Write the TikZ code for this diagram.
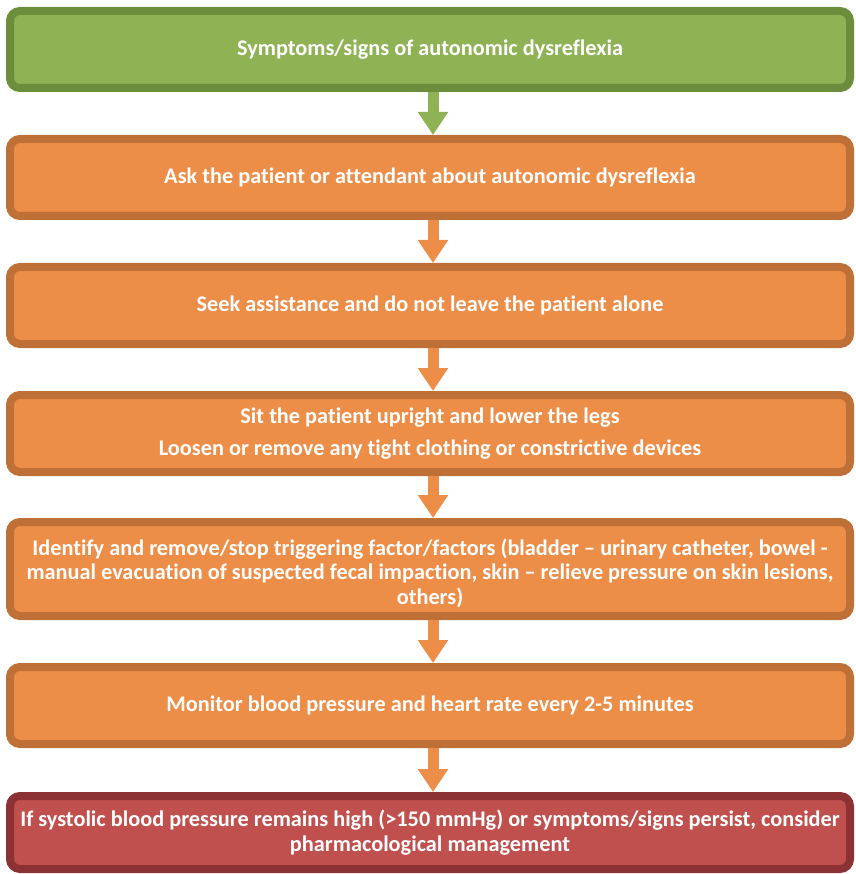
\documentclass[tikz,border=0pt]{standalone}
\usepackage{fontspec}
\setmainfont{Carlito}[Ligatures={NoCommon}]
\usetikzlibrary{arrows.meta,shadows}

\definecolor{grnfill}{RGB}{143,178,85}
\definecolor{grnline}{RGB}{108,142,60}
\definecolor{orgfill}{RGB}{236,142,72}
\definecolor{orgline}{RGB}{190,112,55}
\definecolor{redfill}{RGB}{192,80,78}
\definecolor{redline}{RGB}{140,50,52}

\tikzset{
  stepbox/.style={rectangle, rounded corners=10pt, line width=8pt,
    minimum width=840pt, minimum height=77pt, inner sep=0pt,
    align=center, text=white, font=\fontsize{22.3}{24.5}\selectfont\bfseries,
    drop shadow={shadow xshift=1.5pt, shadow yshift=-3pt, opacity=0.25, fill=black!60}},
  greenbox/.style={stepbox, draw=grnline, fill=grnfill},
  orangebox/.style={stepbox, draw=orgline, fill=orgfill},
  redbox/.style={stepbox, draw=redline, fill=redfill},
  flowarrow/.style={line width=11pt, -{Triangle[width=29pt,length=23pt]}},
}

\begin{document}
\begin{tikzpicture}[x=1pt,y=-1pt]
  \useasboundingbox (0,0) rectangle (855,874);

  \node[greenbox]  (b1) at (430,49.5)  {Symptoms/signs of autonomic dysreflexia};
  \node[orangebox] (b2) at (430,177.5) {Ask the patient or attendant about autonomic dysreflexia};
  \node[orangebox] (b3) at (430,305.5) {Seek assistance and do not leave the patient alone};
  \node[orangebox] (b4) at (430,433.5) {Sit the patient upright and lower the legs\\[7.5pt]
    Loosen or remove any tight clothing or constrictive devices};
  \node[orangebox, minimum height=94pt] (b5) at (430,569)
    {\rule{0pt}{25pt}Identify and remove/stop triggering factor/factors (bladder -- urinary catheter, bowel -\\
     manual evacuation of suspected fecal impaction, skin -- relieve pressure on skin lesions,\\
     others)};
  \node[orangebox] (b6) at (430,705.5) {Monitor blood pressure and heart rate every 2-5 minutes};
  \node[redbox, minimum height=73pt] (b7) at (430,832.5)
    {If systolic blood pressure remains high (>150 mmHg) or symptoms/signs persist, consider\\
     pharmacological management};

  \draw[flowarrow, grnfill] ([xshift=3pt]b1.south) -- ([xshift=3pt]b2.north);
  \foreach \a/\b in {b2/b3, b3/b4, b4/b5, b5/b6, b6/b7}
    \draw[flowarrow, orgfill] ([xshift=3pt]\a.south) -- ([xshift=3pt]\b.north);
\end{tikzpicture}
\end{document}
